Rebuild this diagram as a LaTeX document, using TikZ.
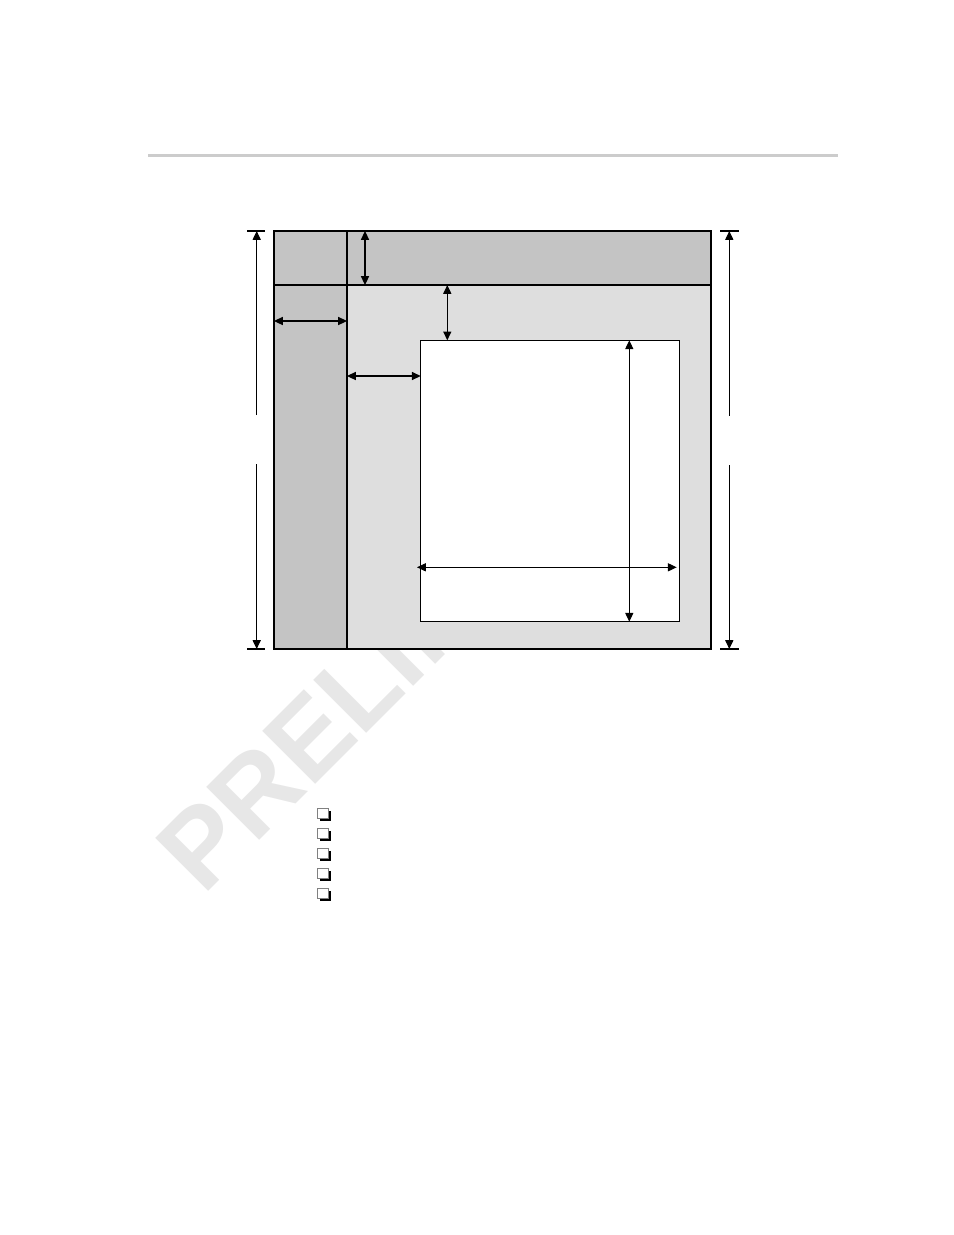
\documentclass[tikz,border=0pt]{standalone}
\usepackage{fontspec}
\newfontfamily\wmfont{Liberation Sans}
\usetikzlibrary{arrows.meta,
	shadows,
	positioning
}
\definecolor{bandgray}{RGB}{196,196,196}
\definecolor{fieldgray}{RGB}{222,222,222}
\definecolor{rulegray}{RGB}{204,204,204}
\definecolor{markgray}{RGB}{231,231,231}
\tikzset{
	dim/.style={line width=0.6pt, {Triangle[length=5pt,width=4.6pt]}-{Triangle[length=5pt,width=4.6pt]}},
	halfdim/.style={line width=0.6pt, -{Triangle[length=5pt,width=4.6pt]}},
	tick/.style={line width=0.6pt},
	watermark/.style={text=markgray, inner sep=0pt, font=\wmfont\bfseries\fontsize{62}{62}\selectfont},
	chkbox/.style={draw=gray, fill=white, line width=0.5pt, minimum size=0.21cm, inner sep=0pt,
		general shadow={shadow xshift=1.3pt, shadow yshift=-1.3pt, fill=black}},
}

\begin{document}
\begin{tikzpicture}[x=0.02cm,y=-0.02cm]

\useasboundingbox (0,0) rectangle (954,1235);

% page rule and watermark

\draw[rulegray, line width=1.7pt] (148,155) -- (838,155);
\node[watermark, rotate=45, anchor=base west] (wm) at (203,897) {PRELIMINARY};

% boxes

\fill[bandgray] (274,231) rectangle (711,649);
\fill[fieldgray] (347,285) rectangle (711,649);
\draw[line width=0.6pt] (347,231) -- (347,649);
\draw[line width=0.6pt] (274,285) -- (711,285);
\draw[line width=1.1pt] (274,231) rectangle (711,649);
\draw[line width=0.6pt, fill=white] (420.7,340.3) rectangle (679.3,621.7);

% dimension points

\coordinate (lt) at (256.7,231);
\coordinate (lm1) at (256.7,415);
\coordinate (lm2) at (256.7,464);
\coordinate (lb) at (256.7,649);
\coordinate (rt) at (729.3,231);
\coordinate (rm1) at (729.3,415.7);
\coordinate (rm2) at (729.3,465);
\coordinate (rb) at (729.3,649);

\coordinate (bt) at (365,231);
\coordinate (bb) at (365,285);
\coordinate (cl) at (274,321);
\coordinate (cr) at (347,321);
\coordinate (gt) at (447.3,285);
\coordinate (gb) at (447.3,340.3);
\coordinate (hl) at (347,376);
\coordinate (hr) at (420.7,376);
\coordinate (it) at (629.3,340.3);
\coordinate (ib) at (629.3,621.7);
\coordinate (il) at (417,567.3);
\coordinate (ir) at (676.7,567.3);

% dimensions

\draw[tick] (247,231) -- (265,231);
\draw[tick] (247,649) -- (265,649);
\draw[tick] (720,231) -- (739,231);
\draw[tick] (720,649) -- (739,649);

\draw[halfdim] (lm1) -- (lt);
\draw[halfdim] (lm2) -- (lb);
\draw[halfdim] (rm1) -- (rt);
\draw[halfdim] (rm2) -- (rb);

\draw[dim] (bt) -- (bb);
\draw[dim] (cl) -- (cr);
\draw[dim] (gt) -- (gb);
\draw[dim] (hl) -- (hr);
\draw[dim] (it) -- (ib);
\draw[dim] (il) -- (ir);

% check boxes

\node[chkbox] (cb1) at (323,813.5) {};
\node[chkbox] (cb2) at (323,833.5) {};
\node[chkbox] (cb3) at (323,853.5) {};
\node[chkbox] (cb4) at (323,873.5) {};
\node[chkbox] (cb5) at (323,893.5) {};

\end{tikzpicture}
\end{document}
